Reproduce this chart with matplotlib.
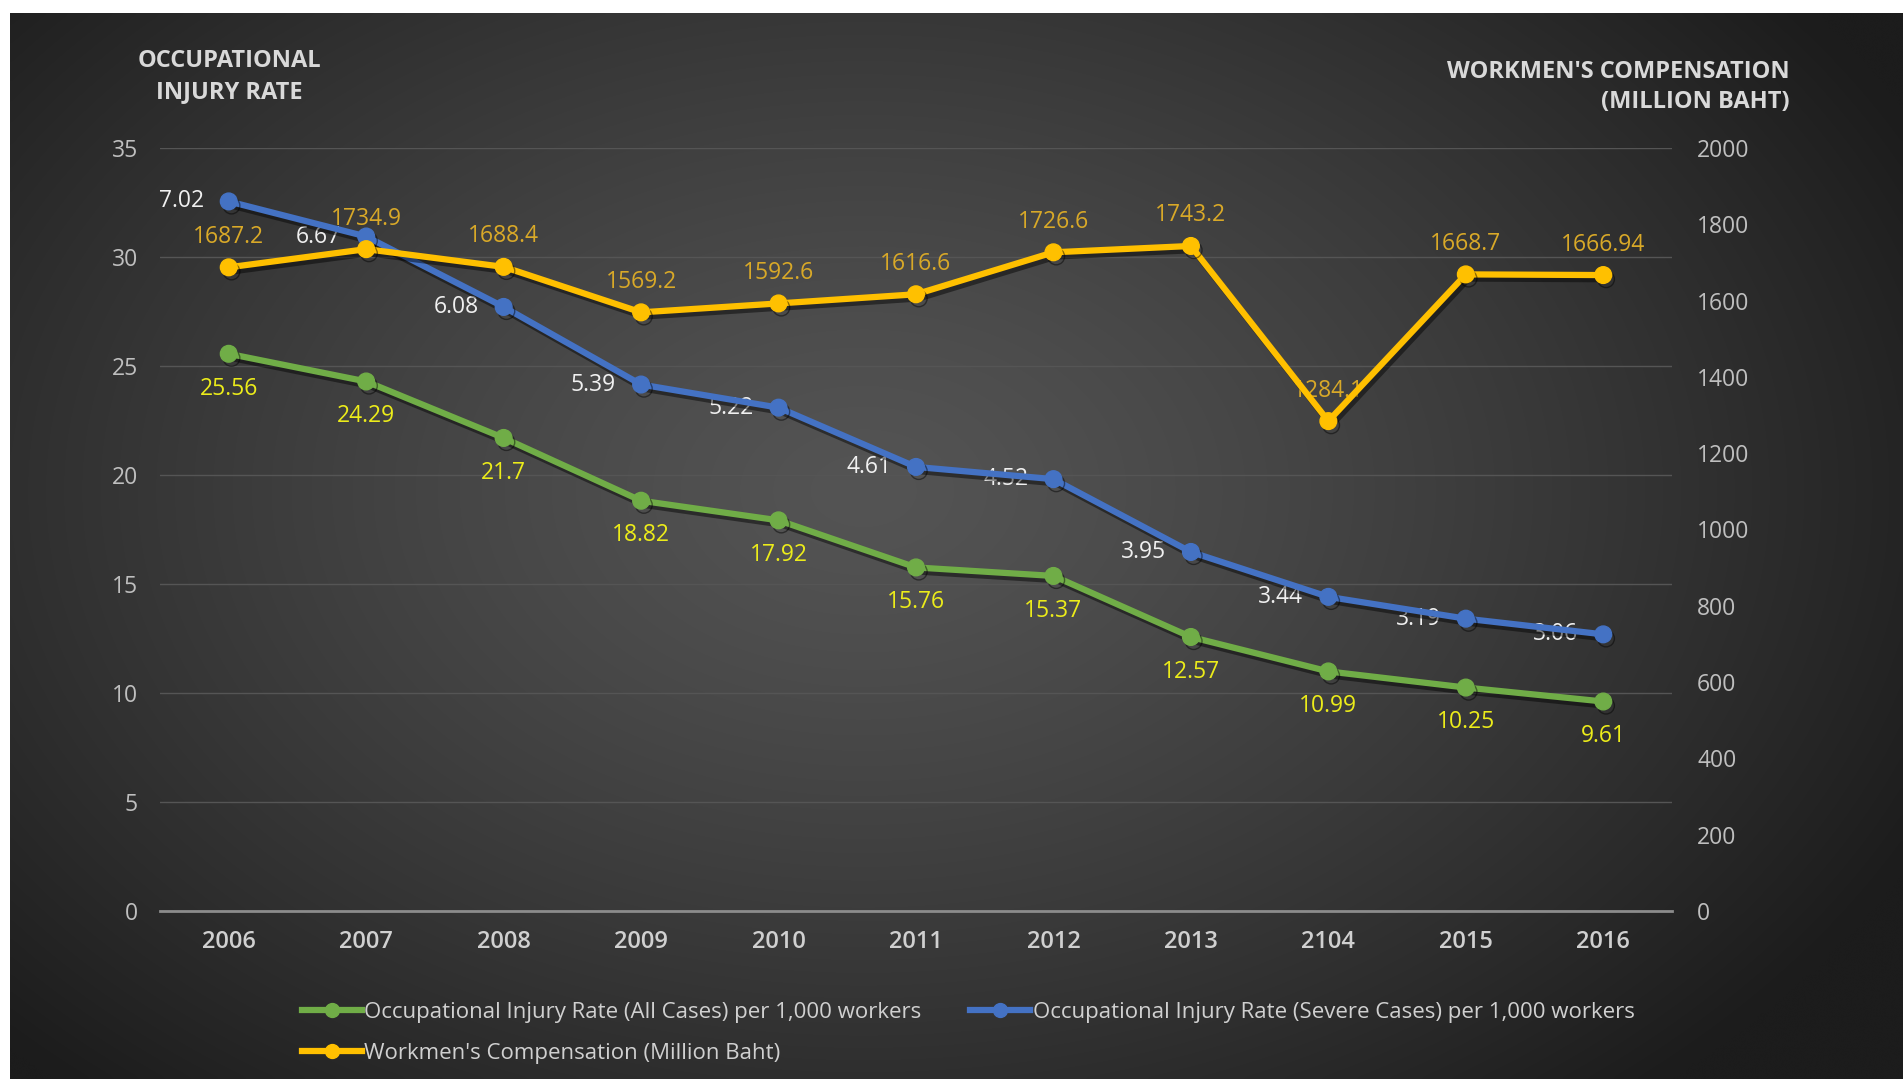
import numpy as np
import matplotlib
matplotlib.use("Agg")
import matplotlib.pyplot as plt
import matplotlib.patheffects as pe
from matplotlib.lines import Line2D

plt.rcParams['font.family'] = ['Open Sans', 'DejaVu Sans']

# ---------------- data ----------------
years = ["2006", "2007", "2008", "2009", "2010", "2011", "2012", "2013", "2104", "2015", "2016"]
all_cases = [25.56, 24.29, 21.7, 18.82, 17.92, 15.76, 15.37, 12.57, 10.99, 10.25, 9.61]
severe_labels = ["7.02", "6.67", "6.08", "5.39", "5.22", "4.61", "4.52", "3.95", "3.44", "3.19", "3.06"]
# plotted height of the severe-case line on the left axis
severe_plot = [32.55, 30.94, 27.71, 24.15, 23.09, 20.37, 19.81, 16.47, 14.41, 13.41, 12.69]
compensation = [1687.2, 1734.9, 1688.4, 1569.2, 1592.6, 1616.6, 1726.6, 1743.2, 1284.1, 1668.7, 1666.94]
comp_labels = ["1687.2", "1734.9", "1688.4", "1569.2", "1592.6", "1616.6", "1726.6", "1743.2", "1284.1", "1668.7", "1666.94"]
left_ticks = [0, 5, 10, 15, 20, 25, 30, 35]
right_ticks = [0, 200, 400, 600, 800, 1000, 1200, 1400, 1600, 1800, 2000]

GREEN = "#70ad47"
BLUE = "#4472c4"
GOLD = "#ffc000"
W, H = 1903, 1079
fig = plt.figure(figsize=(W / 100, H / 100), dpi=100, facecolor="white")

# ---------------- background gradient ----------------
bx0, by0 = 10 / W, 0
bax = fig.add_axes([bx0, by0, 1 - bx0, 1 - 13 / H])
bax.set_axis_off()
ny, nx = 300, 500
yy, xx = np.mgrid[0:ny, 0:nx]
cx, cy = nx * 0.45, ny * 0.55
r = np.sqrt(((xx - cx) / (nx * 0.62)) ** 2 + ((yy - cy) / (ny * 0.75)) ** 2)
r = np.clip(r, 0, 1)
c_in = np.array([0x54, 0x54, 0x54]) / 255
c_out = np.array([0x1c, 0x1c, 0x1c]) / 255
img = c_in[None, None, :] * (1 - r[..., None] ** 1.3) + c_out[None, None, :] * (r[..., None] ** 1.3)
bax.imshow(img, aspect="auto", extent=[0, 1, 0, 1], origin="lower", interpolation="bicubic")
bax.set_xlim(0, 1)
bax.set_ylim(0, 1)

# ---------------- main axes ----------------
L, R = 160 / W, 1672 / W
B, T = (H - 911) / H, (H - 148) / H
ax = fig.add_axes([L, B, R - L, T - B])
ax.patch.set_alpha(0)
ax2 = ax.twinx()
ax2.patch.set_alpha(0)

x = np.arange(len(years))
ax.set_xlim(-0.5, len(years) - 0.5)
ax.set_ylim(0, 35)
ax2.set_ylim(0, 2000)

for s in ["top", "right", "left"]:
    ax.spines[s].set_visible(False)
    ax2.spines[s].set_visible(False)
ax2.spines["bottom"].set_visible(False)
ax.spines["bottom"].set_color("#8c8c8c")
ax.spines["bottom"].set_linewidth(2)

FS = 16.5
ax.set_yticks(left_ticks)
ax.yaxis.grid(True, color="#555555", linewidth=1)
ax.set_axisbelow(True)
ax.tick_params(axis="y", length=0, pad=16, labelsize=FS, labelcolor="#bfbfbf")
ax.set_xticks(x)
ax.set_xticklabels(years, fontweight="semibold")
ax.tick_params(axis="x", length=0, pad=14, labelsize=17, labelcolor="#d0d0d0")
ax2.set_yticks(right_ticks)
ax2.tick_params(axis="y", length=0, pad=18, labelsize=FS, labelcolor="#bfbfbf")
for lab in ax2.get_yticklabels():
    lab.set_horizontalalignment("left")

shadow = [pe.SimpleLineShadow(offset=(2, -3), shadow_color="black", alpha=0.45), pe.Normal()]
lw, ms = 4.5, 12

# data labels (drawn beneath lines)
for i in range(len(years)):
    ax.annotate(f"{all_cases[i]:g}", (x[i], all_cases[i]), xytext=(0, -25),
                textcoords="offset points", ha="center", va="center",
                color="#ecec1a", fontsize=FS, zorder=2)
    ax.annotate(severe_labels[i], (x[i], severe_plot[i]), xytext=(-18, 0),
                textcoords="offset points", ha="right", va="center",
                color="#f0f0f0", fontsize=FS, zorder=2)
    ax2.annotate(comp_labels[i], (x[i], compensation[i]), xytext=(0, 22),
                 textcoords="offset points", ha="center", va="center",
                 color="#d9a928", fontsize=FS, zorder=2)

ax.plot(x, all_cases, color=GREEN, lw=lw, marker="o", ms=ms, zorder=3, path_effects=shadow)
ax.plot(x, severe_plot, color=BLUE, lw=lw, marker="o", ms=ms, zorder=4, path_effects=shadow)
ax2.plot(x, compensation, color=GOLD, lw=lw, marker="o", ms=ms, zorder=3, path_effects=shadow)

# ---------------- axis titles ----------------
TFS = 17
fig.text(229 / W, 1 - 61 / H, "OCCUPATIONAL", ha="center", va="center",
         fontsize=TFS, fontweight="bold", color="#d9d9d9")
fig.text(229 / W, 1 - 92 / H, "INJURY RATE", ha="center", va="center",
         fontsize=TFS, fontweight="bold", color="#d9d9d9")
fig.text(1790 / W, 1 - 72 / H, "WORKMEN'S COMPENSATION", ha="right", va="center",
         fontsize=TFS, fontweight="bold", color="#d9d9d9")
fig.text(1790 / W, 1 - 102 / H, "(MILLION BAHT)", ha="right", va="center",
         fontsize=TFS, fontweight="bold", color="#d9d9d9")

# ---------------- legend ----------------
handles = [
    Line2D([], [], color=GREEN, lw=lw, marker="o", ms=10),
    Line2D([], [], color=GOLD, lw=lw, marker="o", ms=10),
    Line2D([], [], color=BLUE, lw=lw, marker="o", ms=10),
]
labels = [
    "Occupational Injury Rate (All Cases) per 1,000 workers",
    "Workmen's Compensation (Million Baht)",
    "Occupational Injury Rate (Severe Cases) per 1,000 workers",
]
leg = fig.legend(handles, labels, ncol=2, loc="upper left",
                 bbox_to_anchor=(282 / W, 1 - 982 / H), frameon=False,
                 fontsize=16, handlelength=2.7, handletextpad=0.1,
                 columnspacing=2.2, labelspacing=0.88, numpoints=1)
for t in leg.get_texts():
    t.set_color("#d0d0d0")

fig.savefig("out.png", dpi=100, facecolor=fig.get_facecolor())
